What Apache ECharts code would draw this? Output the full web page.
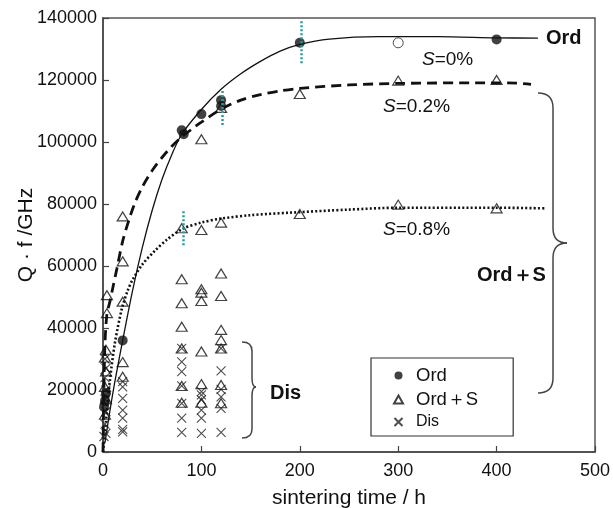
<!DOCTYPE html>
<html>
<head>
<meta charset="utf-8">
<script src="https://cdn.jsdelivr.net/npm/echarts@6/dist/echarts.min.js"></script>
<style>
  html, body { margin: 0; background: #fff; }
  #chart { width: 613px; height: 508px; }
</style>
</head>
<body>
<div id="chart"></div>
<script>
// axis ticks
const xTicks = [0, 100, 200, 300, 400, 500];
const yTicks = [0, 20000, 40000, 60000, 80000, 100000, 120000, 140000];

// measured points [sintering time h, Q.f GHz]
const ordPoints = [
  [1, 14500], [2, 16500], [3, 19000], [20, 36000],
  [80, 103800], [82, 102500], [100, 109000], [120, 113500], [120, 111600],
  [200, 132000], [400, 133100]
];
const ordOpenPoints = [[300, 132000]];
const ordSPoints = [
  [4, 50600], [4, 44800], [3, 33000], [2, 30500], [3, 26000], [2, 21000], [3, 17000], [2, 12000],
  [20, 76000], [20, 61500], [20, 48500], [20, 29000], [20, 24300],
  [80, 72200], [80, 55700], [80, 48000], [80, 40400], [80, 33400], [80, 21300], [80, 15900],
  [100, 100900], [100, 71600], [100, 52500], [100, 51400], [100, 48700], [100, 32400], [100, 21900], [100, 15900],
  [120, 111000], [120, 74000], [120, 57600], [120, 50300], [120, 39400], [120, 36100], [120, 33400], [120, 21600], [120, 15700],
  [200, 115500], [200, 76800],
  [300, 119800], [300, 79800],
  [400, 120000], [400, 78600]
];
const disPoints = [
  [2, 30000], [3, 27000], [2, 24000], [3, 20000], [2, 17000], [3, 13000], [2, 9000], [3, 6000], [1, 5000],
  [20, 22700], [20, 21000], [20, 17300], [20, 13500], [20, 10900], [20, 7300], [20, 6500],
  [80, 33400], [80, 29100], [80, 25900], [80, 21300], [80, 15700], [80, 10900], [80, 6300],
  [100, 19500], [100, 18400], [100, 16800], [100, 13500], [100, 10900], [100, 6000],
  [120, 33400], [120, 26200], [120, 20200], [120, 17800], [120, 14100], [120, 6300]
];

// fitted curves
const curveS0 = [
  [2, 3000], [10, 19000], [20, 36000], [30, 52000], [40, 66000], [50, 78000], [60, 88000],
  [70, 96000], [80, 102500], [100, 110500], [120, 117000], [140, 122000], [160, 126000],
  [180, 129300], [200, 131500], [230, 133200], [280, 134000], [340, 134000], [400, 133600], [442, 133500]
];
const curveS02 = [
  [0, 0], [1, 22000], [2, 35000], [4, 44500], [7, 48500], [10, 53000], [14, 59000], [20, 68000],
  [26, 74500], [32, 80000], [40, 85500], [50, 90800], [60, 95000], [70, 98600], [80, 101600],
  [90, 104100], [100, 106400], [120, 110600], [140, 113500], [160, 115300], [180, 116500],
  [200, 117300], [250, 118400], [300, 118900], [400, 119100], [420, 119000], [435, 118600]
];
const curveS08 = [
  [0, 0], [3, 10000], [7, 23000], [12, 35000], [19, 46000], [25, 52000], [30, 55500], [40, 60500],
  [53, 65000], [65, 68500], [81, 72000], [100, 74000], [120, 75300], [150, 76400], [190, 77200],
  [250, 78200], [300, 78800], [400, 78800], [449, 78600]
];

// teal dotted markers [time, from, to]
const tealMarks = [[82, 66700, 77700], [121, 105500, 116800], [201, 125400, 139400]];

const font = 'Liberation Sans, Arial, Helvetica, sans-serif';
const ink = '#111';

const chart = echarts.init(document.getElementById('chart'));

// curly brace built from lines and quadratic curves
function brace(x0, xs, xt, top, mid, bot, r) {
  const st = { stroke: '#444', lineWidth: 1.5, fill: 'none' };
  const q = (x1, y1, cx, cy, x2, y2) => ({ type: 'bezierCurve', silent: true, style: st,
    shape: { x1, y1, cpx1: cx, cpy1: cy, x2, y2 } });
  const l = (x1, y1, x2, y2) => ({ type: 'line', silent: true, style: st, shape: { x1, y1, x2, y2 } });
  return {
    type: 'group', children: [
      q(x0, top, xs, top, xs, top + r),
      l(xs, top + r, xs, mid - r),
      q(xs, mid - r, xs, mid, xt, mid),
      q(xt, mid, xs, mid, xs, mid + r),
      l(xs, mid + r, xs, bot - r),
      q(xs, bot - r, xs, bot, x0, bot)
    ]
  };
}

function label(text, x, y, size, bold, rich) {
  return {
    type: 'text', x, y, silent: true,
    style: {
      text, fill: ink, fontFamily: font, fontSize: size,
      fontWeight: bold ? 'bold' : 'normal', verticalAlign: 'middle', rich
    }
  };
}
const italicS = { i: { fontStyle: 'italic', fontSize: 19, fontFamily: font, fill: ink }, n: { fontSize: 19, fontFamily: font, fill: ink } };

const option = {
  backgroundColor: '#fff',
  animation: false,
  grid: {
    left: 103, right: 18, top: 18, bottom: 56, outerBoundsMode: 'none', containLabel: false,
    show: true, borderColor: '#555', borderWidth: 1.5
  },
  xAxis: {
    type: 'value', min: xTicks[0], max: xTicks[xTicks.length - 1], interval: 100,
    name: 'sintering time / h', nameLocation: 'middle', nameGap: 36, nameMoveOverlap: false,
    nameTextStyle: { fontFamily: font, fontSize: 21, color: ink },
    axisLine: { lineStyle: { color: '#444', width: 1.5 } },
    axisTick: { inside: true, length: 6, lineStyle: { color: '#444', width: 1.2 } },
    axisLabel: { fontFamily: font, fontSize: 18, color: ink, margin: 10, formatter: v => String(v) },
    splitLine: { show: false }
  },
  yAxis: {
    type: 'value', min: yTicks[0], max: yTicks[yTicks.length - 1], interval: 20000,
    name: 'Q · f /GHz', nameLocation: 'middle', nameGap: 66, nameMoveOverlap: false,
    nameTextStyle: { fontFamily: font, fontSize: 21, color: ink },
    axisLine: { lineStyle: { color: '#444', width: 1.5 } },
    axisTick: { inside: true, length: 6, lineStyle: { color: '#444', width: 1.2 } },
    axisLabel: { fontFamily: font, fontSize: 18, color: ink, margin: 6, formatter: v => String(v) },
    splitLine: { show: false }
  },
  legend: {
    orient: 'vertical', left: 371, top: 358,
    padding: [8, 35, 6, 22], itemGap: 5, itemWidth: 9, itemHeight: 8,
    borderColor: '#333', borderWidth: 1.2, backgroundColor: '#fff',
    data: ['Ord', 'Ord＋S', 'Dis'],
    formatter: n => n === 'Dis' ? '{s|Dis}' : '{a|' + n + '}',
    textStyle: {
      color: ink, fontFamily: font,
      rich: {
        a: { fontSize: 18.5, fontFamily: font, color: ink, padding: [0, 0, 0, 8] },
        s: { fontSize: 16, fontFamily: font, color: ink, padding: [0, 0, 0, 8] }
      }
    }
  },
  series: [
    {
      name: 'S=0%', type: 'line', data: curveS0, symbol: 'none', smooth: 0.3,
      silent: true, lineStyle: { color: ink, width: 1.3 }, z: 1
    },
    {
      name: 'S=0.2%', type: 'line', data: curveS02, symbol: 'none', smooth: 0.3,
      silent: true, lineStyle: { color: ink, width: 2.8, type: [10, 6] }, z: 1
    },
    {
      name: 'S=0.8%', type: 'line', data: curveS08, symbol: 'none', smooth: 0.3,
      silent: true, lineStyle: { color: ink, width: 2.6, type: [2, 2.2] }, z: 1
    },
    {
      name: 'Dis', type: 'scatter', data: disPoints,
      symbol: 'path://M0,0L10,10M10,0L0,10', symbolSize: 9,
      itemStyle: { color: 'rgba(0,0,0,0)', borderColor: '#222', borderWidth: 1.1 }, z: 2
    },
    {
      name: 'Ord＋S', type: 'scatter', data: ordSPoints, symbol: 'triangle', symbolSize: [11, 9],
      itemStyle: { color: 'rgba(255,255,255,0)', borderColor: '#111', borderWidth: 1.2 }, z: 3
    },
    {
      name: 'Ord', type: 'scatter', data: ordPoints, symbol: 'circle', symbolSize: 10,
      itemStyle: { color: '#111' }, z: 4
    },
    {
      name: 'Ord open', type: 'scatter', data: ordOpenPoints, symbol: 'circle', symbolSize: 10,
      itemStyle: { color: '#fff', borderColor: '#222', borderWidth: 1 }, z: 4,
      markLine: {
        silent: true, symbol: 'none', label: { show: false },
        lineStyle: { color: '#2a9a9c', width: 2.5, type: [2, 2] },
        data: tealMarks.map(m => [{ coord: [m[0], m[1]] }, { coord: [m[0], m[2]] }])
      }
    }
  ],
  graphic: [
    brace(242, 252, 256, 342, 387, 438, 9),
    brace(538, 553, 567, 93, 243, 393, 15),
    label('Ord', 546, 38, 20, true),
    label('{i|S}{n|=0%}', 422, 60, 19, false, italicS),
    label('{i|S}{n|=0.2%}', 383, 107, 19, false, italicS),
    label('{i|S}{n|=0.8%}', 383, 230, 19, false, italicS),
    label('Ord＋S', 477, 275, 20, true),
    label('Dis', 270, 393, 20, true)
  ]
};

chart.setOption(option);
</script>
</body>
</html>
